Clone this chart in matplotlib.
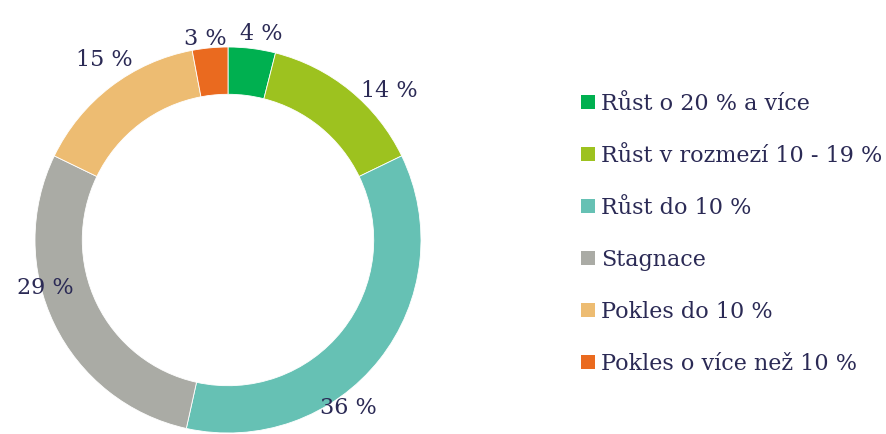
import numpy as np
import matplotlib.pyplot as plt
from matplotlib.patches import Patch

# Data
kategorie = ["Růst o 20 % a více", "Růst v rozmezí 10 - 19 %", "Růst do 10 %",
             "Stagnace", "Pokles do 10 %", "Pokles o více než 10 %"]
podil = [4, 14, 36, 29, 15, 3]
barvy = ["#00B050", "#9DC21F", "#66C1B4", "#AAABA5", "#EDBC72", "#EA6A1F"]

text_barva = "#2B2A55"
plt.rcParams["font.family"] = ["DejaVu Serif"]

W, H = 886, 434
fig = plt.figure(figsize=(W / 100, H / 100), dpi=100)

# Donut: stred (228, 240) px, polomer 193 px
cx, cy, r = 228, H - 240, 193
ax = fig.add_axes([(cx - r) / W, (cy - r) / H, 2 * r / W, 2 * r / H])
wedges, _ = ax.pie(podil, colors=barvy, startangle=90, counterclock=False,
                   radius=1, wedgeprops=dict(width=0.245, edgecolor="white", linewidth=0.6))
ax.set_xlim(-1, 1)
ax.set_ylim(-1, 1)
ax.set_aspect("equal")
ax.axis("off")

# Popisky - posuny uhlu a vzdalenosti podle predlohy
posun_uhlu = [2, 8, 16, 11, 3, -1]
vzdalenost = [1.08, 1.14, 1.07, 0.98, 1.13, 1.05]
kum = np.cumsum([0] + podil[:-1])
for i, p in enumerate(podil):
    stred = (kum[i] + p / 2) / sum(podil) * 360 + posun_uhlu[i]
    a = np.deg2rad(90 - stred)
    ax.text(vzdalenost[i] * np.cos(a), vzdalenost[i] * np.sin(a), f"{p} %",
            ha="center", va="center", fontsize=16, color=text_barva, clip_on=False)

# Legenda
handles = [Patch(facecolor=b, edgecolor="none") for b in barvy]
fig.legend(handles, kategorie, loc="upper left", bbox_to_anchor=(572 / W, 1 - 84 / H),
           frameon=False, fontsize=16, labelcolor=text_barva, handlelength=0.62,
           handleheight=0.62, handletextpad=0.3, labelspacing=1.35, borderaxespad=0)

fig.savefig("out.png", dpi=100)
